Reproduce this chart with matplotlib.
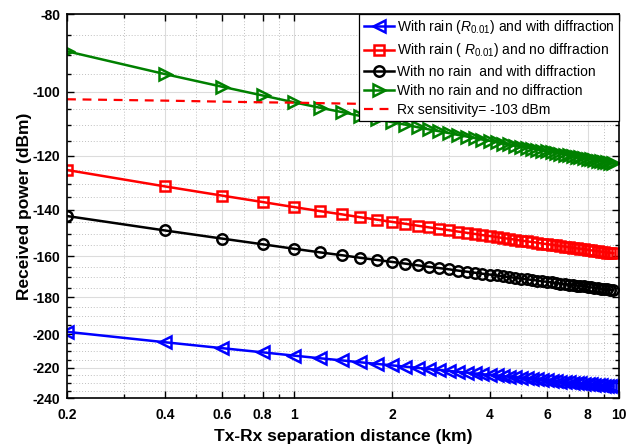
import numpy as np
import matplotlib
matplotlib.use("Agg")
import matplotlib.pyplot as plt
from matplotlib.ticker import FixedLocator, FuncFormatter, NullFormatter

plt.rcParams['font.family'] = ['Liberation Sans', 'DejaVu Sans']
plt.rcParams['mathtext.fontset'] = 'custom'
plt.rcParams['mathtext.rm'] = 'Liberation Sans'
plt.rcParams['mathtext.it'] = 'Liberation Sans:italic'
plt.rcParams['mathtext.bf'] = 'Liberation Sans:bold'

# Separation distance (km)
distance_km = [0.2, 0.4, 0.6, 0.8, 1.0, 1.2, 1.4, 1.6, 1.8, 2.0,
               2.2, 2.4, 2.6, 2.8, 3.0, 3.2, 3.4, 3.6, 3.8, 4.0,
               4.2, 4.4, 4.6, 4.8, 5.0, 5.2, 5.4, 5.6, 5.8, 6.0,
               6.2, 6.4, 6.6, 6.8, 7.0, 7.2, 7.4, 7.6, 7.8, 8.0,
               8.2, 8.4, 8.6, 8.8, 9.0, 9.2, 9.4, 9.6]

rain_with_diffraction = [
    -198.6, -204.6, -208.1, -210.6, -212.6, -214.2, -215.5, -216.7, -217.7, -218.6,
    -219.4, -220.2, -220.9, -221.5, -222.1, -222.7, -223.2, -223.7, -224.2, -224.6,
    -225.0, -225.5, -225.8, -226.2, -226.6, -226.9, -227.2, -227.5, -227.9, -228.1,
    -228.4, -228.7, -229.0, -229.2, -229.5, -229.7, -230.0, -230.2, -230.4, -230.6,
    -230.9, -231.1, -231.3, -231.5, -231.7, -231.9, -232.0, -232.2]

rain_no_diffraction = [
    -125.0, -131.0, -134.5, -137.0, -139.0, -140.6, -141.9, -143.1, -144.1, -145.0,
    -145.8, -146.6, -147.3, -147.9, -148.5, -149.1, -149.6, -150.1, -150.6, -151.0,
    -151.4, -151.9, -152.2, -152.6, -153.0, -153.3, -153.6, -153.9, -154.3, -154.5,
    -154.8, -155.1, -155.4, -155.6, -155.9, -156.1, -156.4, -156.6, -156.8, -157.0,
    -157.3, -157.5, -157.7, -157.9, -158.1, -158.3, -158.4, -158.6]

norain_with_diffraction = [
    -142.6, -148.6, -152.1, -154.6, -156.6, -158.2, -159.5, -160.7, -161.7, -162.6,
    -163.4, -164.2, -164.9, -165.5, -166.1, -166.7, -167.2, -167.7, -168.2, -168.6,
    -169.0, -169.5, -169.8, -170.2, -170.6, -170.9, -171.2, -171.5, -171.9, -172.1,
    -172.4, -172.7, -173.0, -173.2, -173.5, -173.7, -174.0, -174.2, -174.4, -174.6,
    -174.9, -175.1, -175.3, -175.5, -175.7, -175.9, -176.0, -176.2]

norain_no_diffraction = [
    -89.0, -95.0, -98.5, -101.0, -103.0, -104.6, -105.9, -107.1, -108.1, -109.0,
    -109.8, -110.6, -111.3, -111.9, -112.5, -113.1, -113.6, -114.1, -114.6, -115.0,
    -115.4, -115.9, -116.2, -116.6, -117.0, -117.3, -117.6, -117.9, -118.3, -118.5,
    -118.8, -119.1, -119.4, -119.6, -119.9, -120.1, -120.4, -120.6, -120.8, -121.0,
    -121.3, -121.5, -121.7, -121.9, -122.1, -122.3, -122.4, -122.6]

rx_distance_km = [0.2, 0.4, 0.6, 0.8, 1.0, 1.5, 2.0, 4.0, 6.0, 8.0, 9.6]
rx_sensitivity = [-102.1, -102.5, -102.8, -103.0, -103.1, -103.4, -103.6, -104.0, -104.3, -104.5, -104.6]

labels = [r'With rain ($\mathit{R}_{\mathit{0.01}}$) and with diffraction',
          r'With rain ( $\mathit{R}_{\mathit{0.01}}$) and no diffraction',
          'With no rain  and with diffraction',
          'With no rain and no diffraction',
          'Rx sensitivity= -103 dBm']

x_major = [0.2, 0.4, 0.6, 0.8, 1, 2, 4, 6, 8, 10]
x_minor = [0.3, 0.5, 0.7, 0.9, 3, 5, 7, 9]
y_major = [-240, -220, -200, -180, -160, -140, -120, -100, -80]

fig = plt.figure(figsize=(6.28, 4.48), dpi=100)
ax = fig.add_axes([67/628, 1-398/448, (619-67)/628, (398-14)/448])


def fwd(y):
    y = np.asarray(y, dtype=float)
    with np.errstate(divide='ignore', invalid='ignore'):
        return -np.log10(np.abs(y))


def inv(t):
    t = np.asarray(t, dtype=float)
    return -10.0 ** (-t)


ax.set_xscale('log')
ax.set_yscale('function', functions=(fwd, inv))

lw = 1.8
mew = 1.8
ax.plot(distance_km, rain_with_diffraction, color='#0000ff', lw=lw, marker='<',
        ms=8, mfc='none', mew=mew, label=labels[0])
ax.plot(distance_km, rain_no_diffraction, color='#ff0000', lw=lw, marker='s',
        ms=6.5, mfc='none', mew=mew, label=labels[1])
ax.plot(distance_km, norain_with_diffraction, color='#000000', lw=lw, marker='o',
        ms=7.5, mfc='none', mew=mew, label=labels[2])
ax.plot(distance_km, norain_no_diffraction, color='#008000', lw=lw, marker='>',
        ms=8, mfc='none', mew=mew, label=labels[3])
ax.plot(rx_distance_km, rx_sensitivity, color='#ff0000', lw=1.6, ls=(0, (4, 3)),
        label=labels[4])

ax.set_xlim(0.2, 10)
ax.set_ylim(-240, -80)

ax.xaxis.set_major_locator(FixedLocator(x_major))
ax.xaxis.set_minor_locator(FixedLocator(x_minor))
ax.xaxis.set_major_formatter(FuncFormatter(lambda v, p: f'{v:g}'))
ax.xaxis.set_minor_formatter(NullFormatter())

y_minor = [v for v in range(-240, -79, 5) if v not in y_major]
ax.yaxis.set_major_locator(FixedLocator(y_major))
ax.yaxis.set_minor_locator(FixedLocator(y_minor))
ax.yaxis.set_major_formatter(FuncFormatter(lambda v, p: f'{v:.0f}'))
ax.yaxis.set_minor_formatter(NullFormatter())

ax.grid(True, which='major', color='#dcdcdc', lw=0.8, ls='-')
ax.grid(True, which='minor', color='#c0c0c0', lw=0.7, ls=(0, (1, 2)))
ax.set_axisbelow(True)

ax.tick_params(which='both', direction='in', top=True, right=True, width=1.0)
ax.tick_params(which='major', length=5)
ax.tick_params(which='minor', length=3)
ax.tick_params(axis='x', which='major', pad=7)
ax.tick_params(axis='y', which='major', pad=5)
for lbl in ax.get_xticklabels() + ax.get_yticklabels():
    lbl.set_fontweight('bold')
    lbl.set_fontsize(10)
for s in ax.spines.values():
    s.set_linewidth(1.2)

ax.set_xlabel('Tx-Rx separation distance (km)', fontsize=12.5, fontweight='bold', labelpad=5)
ax.set_ylabel('Received power (dBm)', fontsize=12.5, fontweight='bold', labelpad=0)

leg = ax.legend(loc='upper right', bbox_to_anchor=(1.0, 1.0), borderaxespad=0.0,
                fontsize=10, frameon=True, fancybox=False, framealpha=1.0,
                edgecolor='black', numpoints=1, handlelength=2.2,
                handletextpad=0.2, labelspacing=0.38, borderpad=0.3)
leg.get_frame().set_linewidth(0.9)

fig.savefig('out.png', dpi=100)
